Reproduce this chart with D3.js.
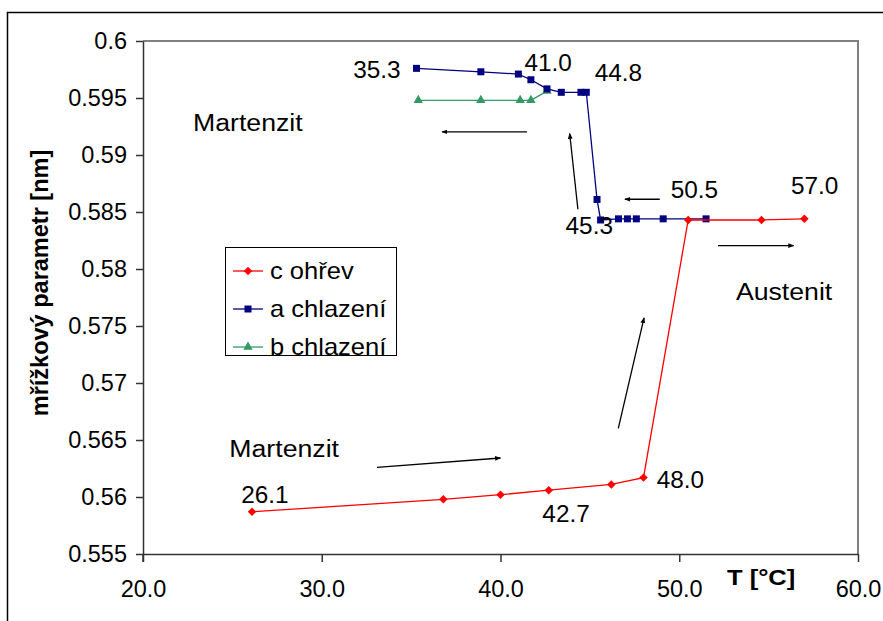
<!DOCTYPE html>
<html>
<head>
<meta charset="utf-8">
<script src="https://cdn.jsdelivr.net/npm/d3@7"></script>
<style>
  body { margin: 0; background: #fff; }
  svg text { font-family: "Liberation Sans", Arial, sans-serif; }
</style>
</head>
<body>
<svg id="chart" width="883" height="621"></svg>
<script>
// c ohřev (heating)
var tempC = [26.1, 36.8, 40.0, 42.7, 46.2, 48.0, 50.5, 54.6, 57.0];
var paramC = [0.5587, 0.5598, 0.5602, 0.5606, 0.5611, 0.5617, 0.5843, 0.5843, 0.5844];
// a chlazení (cooling)
var tempA = [35.3, 38.9, 41.0, 41.7, 42.6, 43.4, 44.5, 44.8, 45.4, 45.6, 46.6, 47.1, 47.6, 49.1, 51.5];
var paramA = [0.5976, 0.5973, 0.5971, 0.5966, 0.5958, 0.5955, 0.5955, 0.5955, 0.5861, 0.5843, 0.5844, 0.5844, 0.5844, 0.5844, 0.5844];
// b chlazení (cooling)
var tempB = [35.4, 38.9, 41.1, 41.7, 42.6];
var paramB = [0.5948, 0.5948, 0.5948, 0.5948, 0.5956];

var xTicks = [20, 30, 40, 50, 60];
var yTicks = [0.555, 0.56, 0.565, 0.57, 0.575, 0.58, 0.585, 0.59, 0.595, 0.6];
var yTickLabels = ['0.555', '0.56', '0.565', '0.57', '0.575', '0.58', '0.585', '0.59', '0.595', '0.6'];

// text notes: [text, T, value]
var notes = [
    ['35.3', 31.76, 0.59675], ['41.0', 41.34, 0.59736], ['44.8', 45.27, 0.59648],
    ['45.3', 43.64, 0.5831], ['50.5', 49.52, 0.5862], ['57.0', 56.25, 0.58656],
    ['26.1', 25.49, 0.55943], ['42.7', 42.34, 0.55782], ['48.0', 48.74, 0.5608],
    ['Martenzit', 22.80, 0.59209], ['Martenzit', 24.83, 0.56347], ['Austenit', 53.17, 0.57724]
];
// arrows: [T1, v1, T2, v2] (head at the second point)
var arrows = [
    [41.48, 0.59203, 36.73, 0.59203],
    [44.33, 0.58524, 43.87, 0.59189],
    [48.91, 0.58612, 46.96, 0.58612],
    [52.17, 0.58205, 56.40, 0.58205],
    [33.09, 0.56259, 40.00, 0.56342],
    [46.59, 0.56602, 48.03, 0.57572]
];

var svg = d3.select('#chart');
var plotL = 143, plotT = 41, plotR = 858, plotB = 554;

var x = d3.scaleLinear().domain([20, 60]).range([plotL, plotR]);
var y = d3.scaleLinear().domain([0.555, 0.6]).range([plotB, plotT]);

// the original text is a bit stretched sideways
function stretch(s) { return /[A-Za-z]/.test(s) ? 1.16 : 1.06; }

// outer frame
svg.append('rect')
    .attr('x', 7.5).attr('y', 12.5)
    .attr('width', 900).attr('height', 640)
    .attr('fill', 'none').attr('stroke', '#000').attr('stroke-width', 1.5);

// plot area border (top/right)
svg.append('path')
    .attr('d', 'M' + plotL + ',' + plotT + 'H' + plotR + 'V' + plotB)
    .attr('fill', 'none').attr('stroke', '#808080').attr('stroke-width', 2);

// axes
var xAxis = svg.append('g')
    .attr('transform', 'translate(0,' + plotB + ')')
    .call(d3.axisBottom(x).tickValues(xTicks).tickSize(8).tickSizeOuter(0).tickPadding(18).tickFormat(d3.format('.1f')));
var yAxis = svg.append('g')
    .attr('transform', 'translate(' + plotL + ',0)')
    .call(d3.axisLeft(y).tickValues(yTicks).tickSize(7).tickSizeOuter(0).tickPadding(9)
        .tickFormat(function (d, i) { return yTickLabels[i]; }));
[xAxis, yAxis].forEach(function (g) {
    g.selectAll('path, line').attr('stroke', '#333').attr('stroke-width', 1.5);
    g.selectAll('text').attr('fill', '#000').style('font-size', '23.5px')
        .style('font-family', '"Liberation Sans", Arial, sans-serif');
});
// y-axis continues down to the x tick length
svg.append('line')
    .attr('x1', plotL).attr('x2', plotL).attr('y1', plotB).attr('y2', plotB + 8)
    .attr('stroke', '#333').attr('stroke-width', 1.5);

// axis titles
svg.append('text')
    .attr('transform', 'translate(48,283) rotate(-90)')
    .attr('text-anchor', 'middle')
    .style('font-size', '23.5px').style('font-weight', 'bold')
    .text('mřížkový parametr [nm]');
svg.append('text')
    .attr('transform', 'translate(727,585) scale(1.16,1)')
    .style('font-size', '22px').style('font-weight', 'bold')
    .text('T [°C]');

// series
var diamond = {
    draw: function (ctx, size) {
        var r = Math.sqrt(size / 2);
        ctx.moveTo(0, -r); ctx.lineTo(r, 0); ctx.lineTo(0, r); ctx.lineTo(-r, 0); ctx.closePath();
    }
};
var line = d3.line().x(function (d) { return x(d[0]); }).y(function (d) { return y(d[1]); });
var series = [
    { name: 'c ohřev', t: tempC, v: paramC, color: '#FF0000', symbol: diamond, size: 36 },
    { name: 'a chlazení', t: tempA, v: paramA, color: '#000080', symbol: d3.symbolSquare, size: 49 },
    { name: 'b chlazení', t: tempB, v: paramB, color: '#339966', symbol: d3.symbolTriangle, size: 38 }
];
[series[2], series[1], series[0]].forEach(function (s) {
    var pts = s.t.map(function (t, i) { return [t, s.v[i]]; });
    svg.append('path')
        .attr('d', line(pts))
        .attr('fill', 'none').attr('stroke', s.color).attr('stroke-width', 1.3);
    svg.append('g').selectAll('path')
        .data(pts)
        .enter()
        .append('path')
        .attr('d', d3.symbol().type(s.symbol).size(s.size))
        .attr('transform', function (d) { return 'translate(' + x(d[0]) + ',' + y(d[1]) + ')'; })
        .attr('fill', s.color);
});

// notes
svg.append('g').selectAll('text')
    .data(notes)
    .enter()
    .append('text')
    .attr('transform', function (d) {
        return 'translate(' + x(d[1]) + ',' + y(d[2]) + ') scale(' + stretch(d[0]) + ',1)';
    })
    .style('font-size', '23px')
    .text(function (d) { return d[0]; });

// arrows
svg.append('defs').append('marker')
    .attr('id', 'head')
    .attr('viewBox', '0 0 10 10')
    .attr('refX', 9).attr('refY', 5)
    .attr('markerWidth', 6).attr('markerHeight', 6)
    .attr('markerUnits', 'userSpaceOnUse')
    .attr('orient', 'auto')
    .append('path')
    .attr('d', 'M0,1 L10,5 L0,9 Z')
    .attr('fill', '#000');
svg.append('g').selectAll('line')
    .data(arrows)
    .enter()
    .append('line')
    .attr('x1', function (d) { return x(d[0]); })
    .attr('y1', function (d) { return y(d[1]); })
    .attr('x2', function (d) { return x(d[2]); })
    .attr('y2', function (d) { return y(d[3]); })
    .attr('stroke', '#000').attr('stroke-width', 1.3)
    .attr('marker-end', 'url(#head)');

// legend
var legend = svg.append('g').attr('transform', 'translate(225,247)');
legend.append('rect')
    .attr('x', 0.5).attr('y', 0.5).attr('width', 171).attr('height', 108)
    .attr('fill', '#fff').attr('stroke', '#000').attr('stroke-width', 1);
series.forEach(function (s, i) {
    var ly = 24 + i * 38;
    legend.append('line')
        .attr('x1', 8).attr('x2', 38).attr('y1', ly).attr('y2', ly)
        .attr('stroke', s.color).attr('stroke-width', 1.3);
    legend.append('path')
        .attr('d', d3.symbol().type(s.symbol).size(s.size))
        .attr('transform', 'translate(23,' + ly + ')')
        .attr('fill', s.color);
    legend.append('text')
        .attr('transform', 'translate(45,' + (ly + 8) + ') scale(1.11,1)')
        .style('font-size', '23px')
        .text(s.name);
});
</script>
</body>
</html>
